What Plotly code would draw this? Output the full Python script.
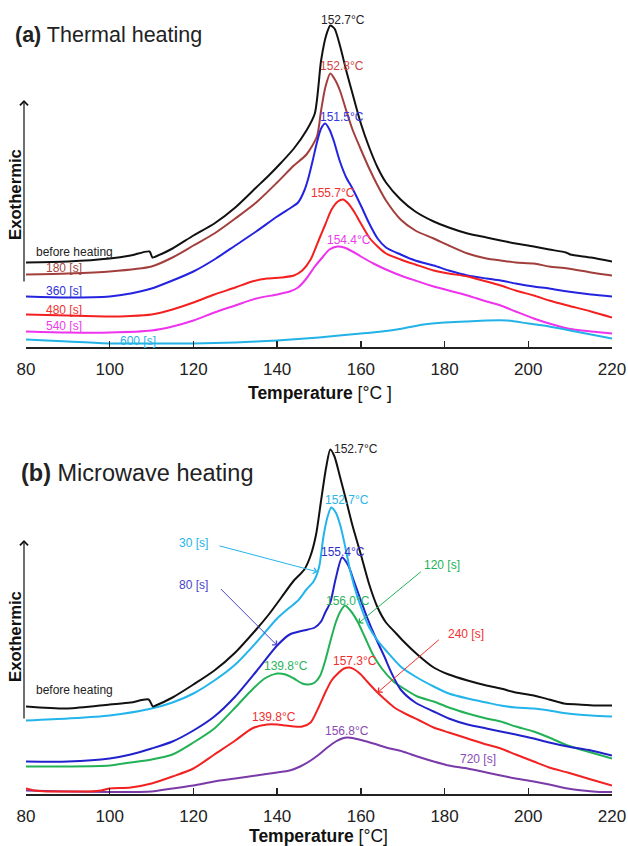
import numpy as np
import plotly.graph_objects as go

# ---------------- (a) Thermal heating : DSC curves (heat flow, a.u.) ----------------
A_BEFORE_T = [80, 90, 100, 105, 109.5, 110.2, 111, 115, 120, 125, 130, 135, 138, 141, 144, 147, 149,
              150.5, 151.7, 152.7, 153.7, 155, 156.5, 158, 160, 162, 164, 166, 169.5, 173, 177.4, 181,
              185.5, 190, 193.4, 197, 201.3, 205, 209, 210, 215, 220]
A_BEFORE_H = [83, 84, 87, 90, 94, 88, 89, 97, 110, 122, 138, 158, 170, 183, 197, 215, 232,
              285, 310, 320, 317, 300, 275, 252, 222, 198, 178, 163, 146, 134, 124, 118,
              112, 108, 105, 102, 99, 96, 93, 91, 88, 84]

A_180_T = [80, 90, 100, 110, 115, 120, 125, 130, 135, 140, 144, 147, 149.5, 150.5, 151.5, 152.7, 153.8,
           155, 156.5, 158, 160, 162, 164, 166, 169.5, 173, 177.4, 181, 185.5, 190, 193.4, 197, 201.3,
           205, 209.4, 215, 220]
A_180_H = [71, 72, 74, 79, 88, 100, 112, 127, 143, 163, 180, 191, 209, 235, 258, 272, 266,
           255, 235, 216, 196, 177, 160, 145, 126, 115, 107, 100, 92, 87, 85, 83, 82,
           79, 77, 73, 70]

A_360_T = [80, 90, 100, 105, 110, 115, 120, 125, 130, 135, 140, 143, 145, 146.5, 147.5, 148.5, 149.5,
           150.5, 151.5, 152.5, 153.5, 155, 156.5, 158, 160, 162, 164, 166, 169.5, 173, 177.4, 181,
           185.5, 190, 193.4, 197, 201.3, 205, 209.4, 215, 220]
A_360_H = [49, 48, 49, 52, 57, 65, 74, 86, 100, 114, 129, 137, 143, 155, 168, 185, 203,
           217, 222, 216, 205, 184, 168, 157, 140, 122, 107, 98, 91, 85, 80, 75,
           70, 67, 65, 62, 59, 57, 54, 51, 49]

A_480_T = [80, 90, 100, 105, 110, 115, 120, 125, 130, 134, 137.6, 141, 144, 146, 148, 150, 151.5, 153,
           154.5, 155.7, 157, 158.5, 160, 162, 164, 166, 169.5, 173, 177.4, 181, 185.5, 190, 193.4,
           197, 201.3, 205, 209.4, 215, 220]
A_480_H = [31, 30, 29, 29.5, 31, 36, 43, 51, 58, 64, 67, 68, 70, 75, 86, 106, 121, 136,
           144, 146, 142, 133, 122, 108, 99, 92, 86, 81, 75, 72, 69, 64, 60,
           55, 50, 45, 40, 34, 28]

A_540_T = [80, 90, 100, 110, 115, 120, 125, 130, 135, 140, 143, 145, 147, 149, 151, 152.5, 154.4, 156,
           158, 160, 163, 166, 169.5, 173, 177.4, 181, 185.5, 190, 193.4, 197, 201.3, 205, 209.4,
           215, 220]
A_540_H = [14, 13, 13, 15, 19, 25, 33, 40, 47, 51, 54, 58, 67, 79, 89, 96, 99, 98,
           94, 89, 82, 76, 70, 65, 59, 55, 50, 44, 40, 34, 27, 22, 17,
           14, 12]

A_600_T = [80, 90, 100, 110, 120, 130, 140, 150, 160, 165, 170, 175, 180, 185, 190, 195, 200, 205, 210,
           215, 220]
A_600_H = [6, 4, 2, 2, 2, 3, 5, 8, 12, 14, 17, 21, 23, 24, 25, 25, 22, 19, 15, 11, 7]

# ---------------- (b) Microwave heating ----------------
B_BEFORE_T = [80, 90, 100, 105, 109.3, 110.3, 111, 115, 120, 125, 130, 135, 138, 141, 144, 146.5, 148,
              149.3, 150.5, 151.7, 152.7, 153.7, 155, 156.5, 158, 160, 162, 164, 166, 168, 170, 173.5,
              177.4, 181, 185.5, 190, 193.4, 197, 201.3, 205, 208.5, 212, 216, 220]
B_BEFORE_H = [86, 84, 88, 90, 93, 86, 87, 95, 108, 122, 140, 163, 178, 195, 212, 223, 237,
              258, 292, 325, 343, 336, 316, 292, 267, 238, 208, 185, 170, 161, 152, 138,
              125, 118, 112, 107, 104, 100, 97, 93, 89, 88, 87, 87]

B_30_T = [80, 90, 100, 110, 115, 120, 125, 130, 135, 140, 143, 145, 147, 148.7, 150, 151.1, 152, 152.9,
          154, 155.1, 156.3, 157.5, 159, 160.5, 162, 164, 166, 169.5, 173, 177.4, 181, 185.5, 190,
          193.4, 197, 201.3, 205, 209.4, 215, 220]
B_30_H = [72, 74, 77, 84, 90, 99, 112, 128, 150, 174, 185, 192, 203, 211, 225, 257, 275, 285,
          280, 267, 245, 221, 198, 180, 165, 152, 142, 126, 116, 106, 99, 94, 90,
          87, 85, 84, 82, 79, 77, 76]

B_80_T = [80, 90, 100, 105, 110, 115, 120, 125, 130, 135, 140, 143, 146.3, 149, 150.5, 151.5, 152.7,
          154, 155.5, 157, 158.3, 160, 161.5, 163.5, 165.5, 167.5, 169.5, 173, 177.4, 181, 185.5,
          190, 193.4, 197, 201.3, 205, 209.4, 215, 220]
B_80_H = [31, 31, 34, 38, 44, 51, 62, 76, 96, 121, 147, 158, 162, 165, 171, 180, 190,
          214, 235, 227, 212, 192, 175, 155, 137, 118, 103, 90, 81, 74, 68,
          64, 61, 58, 54, 50, 46, 42, 37]

B_120_T = [80, 90, 100, 105, 110, 115, 120, 125, 130, 133.6, 137, 140, 142, 144, 146, 147.5, 149, 150.3,
           151.5, 152.7, 154, 155.1, 156.2, 157.5, 159.2, 161, 163, 165, 167.8, 169.5, 173.5, 177.4,
           181, 185.5, 190, 193.4, 197, 201.3, 205, 209.4, 215, 220]
B_120_H = [26, 26, 27, 30, 33, 38, 50, 64, 85, 101, 114, 119, 118, 114, 109, 108, 110, 117,
           132, 151, 170, 181, 187, 182, 171, 155, 137, 124, 111, 106, 96, 91,
           85, 79, 74, 71, 66, 61, 55, 47, 40, 34]

B_240_T = [80, 82, 85, 90, 95, 98, 100, 105, 110, 115, 120, 125, 130, 134, 137.6, 140, 142, 144, 146,
           148, 150, 151.5, 153, 154.5, 156, 157.3, 158.5, 160, 161.5, 163.5, 165.5, 168, 171, 174,
           177.4, 181, 185.5, 190, 193.4, 197, 201.3, 205, 209.4, 215, 220]
B_240_H = [4, 2, 1, 1, 1, 2, 4, 5, 9, 16, 24, 38, 52, 64, 68, 68, 67, 66, 66,
           70, 86, 100, 112, 119, 124, 125, 123, 118, 111, 102, 94, 85, 78, 72,
           65, 60, 54, 48, 44, 38, 31, 25, 20, 13, 7]

B_720_T = [80, 90, 100, 110, 115, 120, 125, 130, 135, 140, 143, 145.5, 148, 150, 152, 154, 155.5, 156.8,
           158.5, 160.5, 163, 167, 170, 173.5, 177.4, 181, 185.5, 190, 193.4, 197, 201.3, 205, 209.4,
           213, 217, 220]
B_720_H = [2, 1, 0.5, 1, 4, 7, 11, 14, 17, 20, 22, 26, 32, 38, 45, 51, 54, 55,
           54, 52, 49, 44, 41, 36, 31, 27, 24, 20, 17, 14, 11, 8, 4,
           2, 0.5, 0.5]

# peak-label texts as printed on the chart
A_PEAK_TEXT = ["152.7°C", "152.8°C", "151.5°C", "155.7°C", "154.4°C"]
B_PEAK_TEXT = ["152.7°C", "152.7°C", "155.4°C", "156.0°C", "157.3°C", "156.8°C"]
B_SHOULDER_TEXT = "139.8°C"
B_SHOULDER_T = 139.8

TICKS = [80, 100, 120, 140, 160, 180, 200, 220]

# ---------------- figure ----------------
W, H = 628, 846
FONT = "Liberation Sans, Arial, sans-serif"


def pxx(px):
    return px / W


def pyy(py):
    return 1 - py / H


X0, X1 = 26, 612
A_BOT, A_TOP = 347, 8
B_BOT, B_TOP = 794, 430
A_RANGE = [-1.5, A_BOT - A_TOP - 1.5]
B_RANGE = [-1.5, B_BOT - B_TOP - 1.5]

fig = go.Figure()

top_series = [
    (A_BEFORE_T, A_BEFORE_H, "#111111"),
    (A_180_T, A_180_H, "#a23f3c"),
    (A_360_T, A_360_H, "#2323e0"),
    (A_480_T, A_480_H, "#f42020"),
    (A_540_T, A_540_H, "#ee33ee"),
    (A_600_T, A_600_H, "#22b2e6"),
]
bot_series = [
    (B_720_T, B_720_H, "#7a3aa8"),
    (B_240_T, B_240_H, "#f22222"),
    (B_120_T, B_120_H, "#22b155"),
    (B_80_T, B_80_H, "#2222cc"),
    (B_30_T, B_30_H, "#22b4ea"),
    (B_BEFORE_T, B_BEFORE_H, "#111111"),
]

for t, h, c in top_series:
    fig.add_trace(go.Scatter(x=t, y=h, mode="lines", line=dict(color=c, width=2, shape="spline", smoothing=0.7),
                             xaxis="x", yaxis="y", showlegend=False, hoverinfo="skip"))
for t, h, c in bot_series:
    fig.add_trace(go.Scatter(x=t, y=h, mode="lines", line=dict(color=c, width=2, shape="spline", smoothing=0.7),
                             xaxis="x2", yaxis="y2", showlegend=False, hoverinfo="skip"))

xcommon = dict(range=[80, 220], tickvals=TICKS, showline=True, linecolor="#222222", linewidth=1.5,
               ticks="inside", ticklen=6, tickwidth=1.5, tickcolor="#222222", showgrid=False, zeroline=False,
               automargin=False,
               tickfont=dict(family=FONT, size=17, color="#222222"), ticklabelstandoff=6)
fig.update_layout(
    width=W, height=H, autosize=False,
    margin=dict(l=0, r=0, t=0, b=0, pad=0),
    paper_bgcolor="white", plot_bgcolor="white",
    font=dict(family=FONT, color="#222222"),
    xaxis=dict(domain=[pxx(X0), pxx(X1)], anchor="y", **xcommon),
    yaxis=dict(domain=[pyy(A_BOT), pyy(A_TOP)], range=A_RANGE, visible=False, automargin=False),
    xaxis2=dict(domain=[pxx(X0), pxx(X1)], anchor="y2", **xcommon),
    yaxis2=dict(domain=[pyy(B_BOT), pyy(B_TOP)], range=B_RANGE, visible=False, automargin=False),
)

ann = []


def txt(text, x, y, color, size=12, xref="x", yref="y", xanchor="center", bold=False, angle=0):
    if bold:
        text = "<b>" + text + "</b>"
    ann.append(dict(text=text, x=x, y=y, xref=xref, yref=yref, xanchor=xanchor, yanchor="middle",
                    showarrow=False, textangle=angle, font=dict(family=FONT, size=size, color=color)))


def peak_label(label, t, h, color, dx, dy, ax="x", ay="y"):
    i = int(np.argmax(h))
    txt(label, t[i] + dx, h[i] + dy, color, xref=ax, yref=ay)


def label_at(label, tval, t, h, color, dx, dy, ax="x", ay="y"):
    yv = float(np.interp(tval, t, h))
    txt(label, tval + dx, yv + dy, color, xref=ax, yref=ay)


# panel titles
txt("<b>(a)</b> Thermal heating", pxx(13), pyy(35), "#222222", size=21.5, xref="paper", yref="paper", xanchor="left")
txt("<b>(b)</b> Microwave heating", pxx(19), pyy(473), "#222222", size=23.5, xref="paper", yref="paper", xanchor="left")

# Exothermic labels + arrows
for cy, head, tail in [(195, 100, 283), (637, 540, 720)]:
    txt("Exothermic", pxx(15), pyy(cy), "#111111", size=16.7, xref="paper", yref="paper", bold=True, angle=-90)
    ann.append(dict(x=pxx(24), y=pyy(head), ax=0, ay=tail - head, xref="paper", yref="paper", text="",
                    showarrow=True, arrowhead=4, arrowsize=1.3, arrowwidth=1.2, arrowcolor="#111111"))

# axis titles
txt("<b>Temperature</b> [°C ]", pxx(320), pyy(393), "#111111", size=17.5, xref="paper", yref="paper")
txt("<b>Temperature</b> [°C]", pxx(318), pyy(836), "#111111", size=17.5, xref="paper", yref="paper")

# (a) series labels
txt("before heating", 82.0, 94, "#222222", xanchor="left")
txt("180 [s]", 84.2, 78, "#a84444", xanchor="left")
txt("360 [s]", 84.2, 55, "#2f2fd8", xanchor="left")
txt("480 [s]", 84.4, 36, "#f03030", xanchor="left")
txt("540 [s]", 84.2, 20, "#ea3cea", xanchor="left")
txt("600 [s]", 102.0, 5, "#2ab4e6", xanchor="left")

# (a) peak labels
peak_label(A_PEAK_TEXT[0], A_BEFORE_T, A_BEFORE_H, "#222222", 3.1, 6)
peak_label(A_PEAK_TEXT[1], A_180_T, A_180_H, "#cc4444", 2.9, 8)
peak_label(A_PEAK_TEXT[2], A_360_T, A_360_H, "#3535e0", 4.1, 7)
peak_label(A_PEAK_TEXT[3], A_480_T, A_480_H, "#f03030", -2.4, 7)
peak_label(A_PEAK_TEXT[4], A_540_T, A_540_H, "#ea3cea", 2.8, 7)

# (b) series labels
txt("before heating", 82.0, 103, "#222222", xref="x2", yref="y2", xanchor="left")
txt("720 [s]", 187.9, 34, "#8a4ab5", xref="x2", yref="y2")

# (b) peak labels
peak_label(B_PEAK_TEXT[0], B_BEFORE_T, B_BEFORE_H, "#222222", 6.2, 0, "x2", "y2")
peak_label(B_PEAK_TEXT[1], B_30_T, B_30_H, "#2ab6ea", 3.7, 7, "x2", "y2")
peak_label(B_PEAK_TEXT[2], B_80_T, B_80_H, "#3030c8", 0.3, 6, "x2", "y2")
peak_label(B_PEAK_TEXT[3], B_120_T, B_120_H, "#2ab35a", 0.8, 5, "x2", "y2")
peak_label(B_PEAK_TEXT[4], B_240_T, B_240_H, "#f03030", 1.4, 7, "x2", "y2")
peak_label(B_PEAK_TEXT[5], B_720_T, B_720_H, "#8a4ab5", -0.2, 7, "x2", "y2")
label_at(B_SHOULDER_TEXT, B_SHOULDER_T, B_120_T, B_120_H, "#2ab35a", 2.2, 8, "x2", "y2")
label_at(B_SHOULDER_TEXT, B_SHOULDER_T, B_240_T, B_240_H, "#f03030", -0.5, 8, "x2", "y2")

# (b) pointer annotations: (label, text pos, arrow tail, arrow head temperature, series, color)
pointers = [
    ("30 [s]", (120.0, 250), (125.9, 247), 149.6, (B_30_T, B_30_H), "#22b4ea"),
    ("80 [s]", (120.0, 208), (126.2, 205), 140.0, (B_80_T, B_80_H), "#4a44cc"),
    ("120 [s]", (179.3, 228), (174.7, 222), 159.4, (B_120_T, B_120_H), "#22b155"),
    ("240 [s]", (185.0, 159), (179.0, 154), 164.0, (B_240_T, B_240_H), "#f03030"),
]
for lbl, tp, tail, head_t, (st, sh), col in pointers:
    txt(lbl, tp[0], tp[1], col, xref="x2", yref="y2")
    head_h = float(np.interp(head_t, st, sh))
    ann.append(dict(x=head_t, y=head_h, ax=tail[0], ay=tail[1], xref="x2", yref="y2", axref="x2", ayref="y2",
                    text="", showarrow=True, arrowhead=4, arrowsize=1.2, arrowwidth=1, arrowcolor=col))

fig.update_layout(annotations=ann)
fig.write_html("out.html", config={"displayModeBar": False, "staticPlot": True},
               post_script="document.body.style.margin='0px';document.body.style.overflow='hidden';")
